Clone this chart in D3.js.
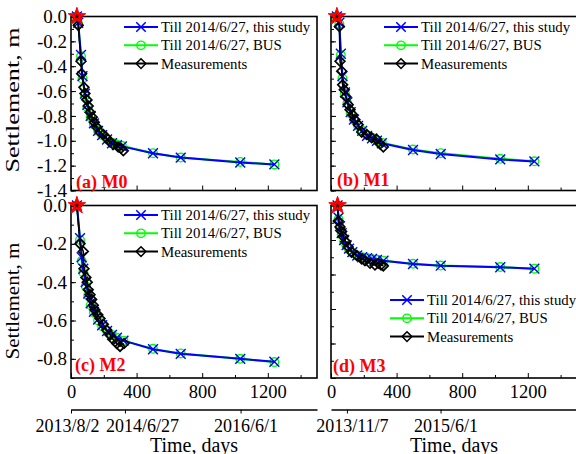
<!DOCTYPE html>
<html>
<head>
<meta charset="utf-8">
<script src="https://cdn.jsdelivr.net/npm/d3@7"></script>
<style>
  body { margin: 0; background: #fff; }
  svg { display: block; font-family: "Liberation Serif", "Times New Roman", serif; }
</style>
</head>
<body>
<svg id="chart" width="576" height="454"></svg>
<script>
// ---- data (days since 2013/8/2, settlement in m) ----
const seriesNames = ["Till 2014/6/27, this study", "Till 2014/6/27, BUS", "Measurements"];
const panelNames = ["(a) M0", "(b) M1", "(c) M2", "(d) M3"];

const studyDaysA = [36, 44, 61, 70, 85, 100, 120, 140, 165, 190, 220, 250, 280, 310, 500, 669, 1032, 1240];
const studyA = [0, -0.05, -0.31, -0.48, -0.62, -0.71, -0.80, -0.86, -0.92, -0.955, -0.99, -1.02, -1.035, -1.045, -1.10, -1.135, -1.175, -1.19];
const busA = [0, -0.06, -0.32, -0.50, -0.64, -0.73, -0.81, -0.87, -0.92, -0.955, -0.985, -1.015, -1.03, -1.04, -1.10, -1.135, -1.17, -1.19];
const measDaysA = [36, 44, 61, 65, 79, 85, 96, 105, 116, 130, 142, 157, 177, 197, 218, 238, 258, 288, 305, 319];
const measA = [0, -0.07, -0.36, -0.46, -0.57, -0.62, -0.67, -0.72, -0.77, -0.81, -0.85, -0.89, -0.93, -0.95, -0.98, -1.01, -1.03, -1.05, -1.06, -1.08];

const studyDaysB = [36, 51, 60, 70, 85, 100, 120, 140, 165, 190, 220, 250, 280, 310, 500, 669, 1032, 1240];
const studyB = [0, -0.05, -0.30, -0.48, -0.61, -0.69, -0.77, -0.83, -0.88, -0.92, -0.96, -0.98, -1.00, -1.02, -1.074, -1.106, -1.15, -1.166];
const busB = [0, -0.06, -0.31, -0.50, -0.62, -0.70, -0.78, -0.83, -0.88, -0.92, -0.955, -0.975, -0.995, -1.015, -1.07, -1.10, -1.145, -1.165];
const measDaysB = [36, 51, 55, 65, 71, 81, 91, 105, 116, 132, 146, 166, 187, 218, 248, 279, 299, 319];
const measB = [0, -0.08, -0.36, -0.44, -0.55, -0.59, -0.645, -0.71, -0.75, -0.79, -0.83, -0.87, -0.93, -0.95, -0.975, -0.99, -1.025, -1.05];

const studyDaysC = [36, 55, 65, 75, 90, 105, 120, 140, 165, 190, 220, 250, 280, 320, 500, 669, 1032, 1240];
const studyC = [0, -0.17, -0.27, -0.33, -0.40, -0.46, -0.51, -0.555, -0.595, -0.625, -0.655, -0.675, -0.69, -0.705, -0.75, -0.774, -0.80, -0.815];
const busC = [0, -0.18, -0.29, -0.35, -0.42, -0.47, -0.52, -0.56, -0.60, -0.63, -0.655, -0.675, -0.69, -0.705, -0.748, -0.772, -0.80, -0.817];
const measDaysC = [36, 55, 75, 79, 91, 99, 105, 116, 126, 136, 146, 163, 177, 197, 218, 238, 258, 279, 299, 323];
const measC = [0, -0.20, -0.24, -0.33, -0.375, -0.40, -0.44, -0.465, -0.49, -0.52, -0.545, -0.57, -0.59, -0.62, -0.65, -0.675, -0.70, -0.72, -0.735, -0.72];

const studyDaysD = [40, 46, 55, 65, 80, 95, 110, 130, 160, 190, 220, 250, 280, 320, 500, 669, 1032, 1240];
const studyD = [0, -0.07, -0.12, -0.16, -0.20, -0.23, -0.25, -0.27, -0.29, -0.30, -0.305, -0.31, -0.315, -0.32, -0.339, -0.349, -0.358, -0.366];
const busD = [0, -0.08, -0.13, -0.17, -0.21, -0.235, -0.255, -0.275, -0.29, -0.30, -0.305, -0.31, -0.315, -0.32, -0.338, -0.348, -0.357, -0.366];
const measDaysD = [40, 44, 55, 65, 75, 90, 105, 126, 157, 187, 207, 238, 268, 288, 305, 319];
const measD = [0, -0.09, -0.124, -0.15, -0.18, -0.21, -0.24, -0.27, -0.29, -0.31, -0.32, -0.335, -0.345, -0.335, -0.345, -0.35];

const dayTicks = [0, 400, 800, 1200];
const dayMinorTicks = [200, 600, 1000, 1400];
const originDate = "2013/8/2";
const dateTicksC = ["2013/8/2", "2014/6/27", "2016/6/1"];
const dateTicksD = ["2013/11/7", "2015/6/1"];

// ---- layout ----
const svg = d3.select("#chart");
const cols = [[71, 317], [331, 577]];
const rows = [[16.5, 190.5], [205.5, 378]];
const blue = "#0000ff", green = "#00ff00", red = "#ff0000";

const symX = d3.symbolTimes || d3.symbolX || d3.symbolCross;
const symDiamond = d3.symbolDiamond2 || d3.symbolDiamond;

const panels = [
  { name: panelNames[0], col: 0, row: 0, yMin: -1.4, yLabels: true, xLabels: false,
    sd: studyDaysA, sv: studyA, bv: busA, md: measDaysA, mv: measA,
    legendX: 124, legendY: 27, labelPos: [76, 188], yTitle: [100, 145] },
  { name: panelNames[1], col: 1, row: 0, yMin: -1.4, yLabels: false, xLabels: false,
    sd: studyDaysB, sv: studyB, bv: busB, md: measDaysB, mv: measB,
    legendX: 384, legendY: 27, labelPos: [337, 186] },
  { name: panelNames[2], col: 0, row: 1, yMin: -0.9, yLabels: true, xLabels: true,
    sd: studyDaysC, sv: studyC, bv: busC, md: measDaysC, mv: measC,
    legendX: 124, legendY: 215, labelPos: [75, 371], yTitle: [301, 117], dates: dateTicksC },
  { name: panelNames[3], col: 1, row: 1, yMin: -1.0, yLabels: false, xLabels: true,
    sd: studyDaysD, sv: studyD, bv: busD, md: measDaysD, mv: measD,
    legendX: 390, legendY: 300, labelPos: [333, 372], dates: dateTicksD }
];

const parseDate = d3.timeParse("%Y/%m/%d");
const t0 = parseDate(originDate);
const fmtY = d => d3.format(".1f")(d).replace("\u2212", "-");

// d3 axes set a sans-serif font on their group; drop it so the serif is inherited
function plainAxis(sel, size) {
  sel.attr("font-family", null).attr("font-size", size);
  sel.selectAll("text").attr("fill", "#000");
}

panels.forEach(p => {
  const [x0, x1] = cols[p.col];
  const [y0, y1] = rows[p.row];
  const x = d3.scaleLinear().domain([0, 1500]).range([x0, x1]);
  const y = d3.scaleLinear().domain([0, p.yMin]).range([y0, y1]);
  const g = svg.append("g");

  // minor ticks
  const yMinor = d3.range(-0.1, p.yMin - 0.001, -0.1).map(v => +v.toFixed(1));
  const yMajor = yMinor.filter(v => Math.abs(Math.round(v * 10)) % 2 === 0);
  yMajor.unshift(0);

  g.append("g").attr("transform", `translate(${x0},0)`)
    .call(d3.axisLeft(y).tickValues(yMinor).tickSize(-3).tickFormat(""))
    .call(a => a.select(".domain").remove());
  g.append("g").attr("transform", `translate(${x0},0)`)
    .call(d3.axisLeft(y).tickValues(yMajor).tickSize(-5).tickPadding(4)
      .tickFormat(p.yLabels ? fmtY : ""))
    .call(a => a.select(".domain").remove())
    .call(plainAxis, 19);

  g.append("g").attr("transform", `translate(0,${y1})`)
    .call(d3.axisBottom(x).tickValues(dayMinorTicks).tickSize(-3).tickFormat(""))
    .call(a => a.select(".domain").remove());
  g.append("g").attr("transform", `translate(0,${y1})`)
    .call(d3.axisBottom(x).tickValues(dayTicks).tickSize(-5).tickPadding(7)
      .tickFormat(p.xLabels ? d3.format("d") : ""))
    .call(a => a.select(".domain").remove())
    .call(plainAxis, 18.5);
  g.selectAll(".tick line").attr("stroke", "#000").attr("stroke-width", 1);

  // frame
  g.append("rect")
    .attr("x", x0).attr("y", y0)
    .attr("width", x1 - x0).attr("height", y1 - y0)
    .attr("fill", "none").attr("stroke", "#000").attr("stroke-width", 1.6);

  const line = d3.line().x(d => x(d[0])).y(d => y(d[1]));
  const bus = p.sd.map((d, i) => [d, p.bv[i]]);
  const study = p.sd.map((d, i) => [d, p.sv[i]]);
  const meas = p.md.map((d, i) => [d, p.mv[i]]);

  // BUS
  g.append("path").datum(bus).attr("d", line)
    .attr("fill", "none").attr("stroke", green).attr("stroke-width", 2);
  g.selectAll(".bus").data(bus).join("circle")
    .attr("cx", d => x(d[0])).attr("cy", d => y(d[1])).attr("r", 4.3)
    .attr("fill", "none").attr("stroke", green).attr("stroke-width", 1.4);

  // this study
  g.append("path").datum(study).attr("d", line)
    .attr("fill", "none").attr("stroke", blue).attr("stroke-width", 2);
  g.selectAll(".study").data(study).join("path")
    .attr("transform", d => `translate(${x(d[0])},${y(d[1])})`)
    .attr("d", d3.symbol(symX, 65))
    .attr("fill", "none").attr("stroke", blue).attr("stroke-width", 1.4);

  // measurements
  g.append("path").datum(meas).attr("d", line)
    .attr("fill", "none").attr("stroke", "#000").attr("stroke-width", 1.5);
  g.selectAll(".meas").data(meas).join("path")
    .attr("transform", d => `translate(${x(d[0])},${y(d[1])})`)
    .attr("d", d3.symbol(symDiamond, 60))
    .attr("fill", "none").attr("stroke", "#000").attr("stroke-width", 1.7);

  // start marker
  const s = meas[0];
  g.append("path")
    .attr("transform", `translate(${x(s[0])},${y(s[1])})`)
    .attr("d", d3.symbol(d3.symbolStar, 95))
    .attr("fill", red).attr("stroke", red).attr("stroke-width", 1);
  g.append("path")
    .attr("transform", `translate(${x(s[0])},${y(s[1])})`)
    .attr("d", d3.symbol(d3.symbolStar, 8))
    .attr("fill", "#000");

  // legend
  const legendStyles = [
    { color: blue, sym: symX },
    { color: green, sym: null },
    { color: "#000", sym: symDiamond }
  ];
  seriesNames.forEach((name, i) => {
    const ly = p.legendY + i * 18.3;
    const st = legendStyles[i];
    const lg = g.append("g");
    lg.append("line")
      .attr("x1", p.legendX).attr("x2", p.legendX + 34)
      .attr("y1", ly).attr("y2", ly)
      .attr("stroke", st.color).attr("stroke-width", 2);
    if (st.sym) {
      lg.append("path")
        .attr("transform", `translate(${p.legendX + 17},${ly})`)
        .attr("d", d3.symbol(st.sym, 60))
        .attr("fill", "none").attr("stroke", st.color).attr("stroke-width", 1.5);
    } else {
      lg.append("circle").attr("cx", p.legendX + 17).attr("cy", ly).attr("r", 4.2)
        .attr("fill", "none").attr("stroke", st.color).attr("stroke-width", 1.4);
    }
    lg.append("text")
      .attr("x", p.legendX + 37).attr("y", ly).attr("dy", "0.35em")
      .attr("font-size", 14.8).attr("fill", "#000")
      .text(name);
  });

  // panel label
  g.append("text")
    .attr("x", p.labelPos[0]).attr("y", p.labelPos[1])
    .attr("font-size", 18).attr("font-weight", "bold").attr("fill", red)
    .text(p.name);

  // y title
  if (p.yTitle) {
    g.append("text")
      .attr("transform", `translate(19,${p.yTitle[0]}) rotate(-90)`)
      .attr("text-anchor", "middle")
      .attr("font-size", 18)
      .attr("textLength", p.yTitle[1])
      .attr("lengthAdjust", "spacingAndGlyphs")
      .text("Settlement, m");
  }

  // date axis + x title
  if (p.dates) {
    const dayVals = p.dates.map(s => d3.timeDay.count(t0, parseDate(s)));
    g.append("g").attr("transform", "translate(0,409.5)")
      .call(d3.axisBottom(x).tickValues(dayVals).tickSize(4).tickSizeOuter(0).tickPadding(6)
        .tickFormat((d, i) => p.dates[i]))
      .call(plainAxis, 18)
      .call(a => a.select(".domain").attr("stroke-width", 1.6))
      .call(a => a.selectAll("text")
        .attr("dx", (d, i) => (p.dates[i] === "2014/6/27" ? 17 : (i === 0 && p.col === 0 ? -4 : 5))));

    g.append("text")
      .attr("x", (x0 + x1) / 2).attr("y", 452)
      .attr("text-anchor", "middle").attr("font-size", 20)
      .text("Time, days");
  }
});
</script>
</body>
</html>
